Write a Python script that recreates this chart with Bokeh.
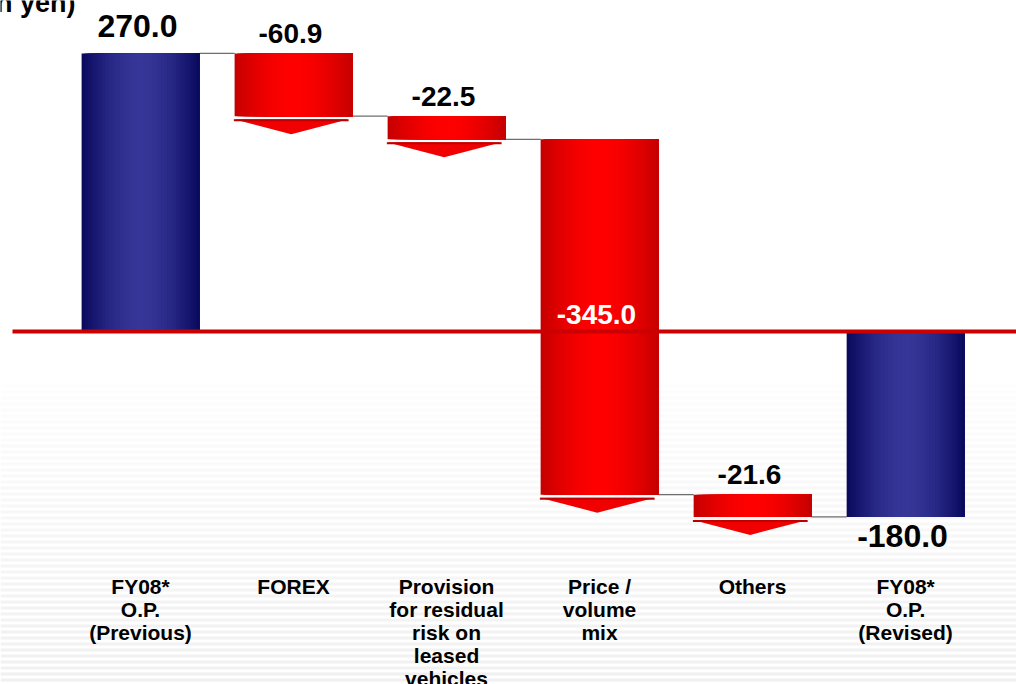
import numpy as np
from bokeh.plotting import figure
from bokeh.models import Range1d
from bokeh.core.properties import value
from bokeh.embed import file_html
from bokeh.resources import INLINE

# ---------------- data ----------------
categories = [
    "FY08*\nO.P.\n(Previous)",
    "FOREX",
    "Provision\nfor residual\nrisk on\nleased\nvehicles",
    "Price /\nvolume\nmix",
    "Others",
    "FY08*\nO.P.\n(Revised)",
]
values = [270.0, -60.9, -22.5, -345.0, -21.6, -180.0]
is_total = [True, False, False, False, False, True]
value_labels = ["270.0", "-60.9", "-22.5", "-345.0", "-21.6", "-180.0"]
unit_label = "(billion yen)"

# ---------------- geometry ----------------
W, H = 1016, 684
Y0, Y1 = -342.7, 321.4
X0, X1 = -0.915, 5.725
PX = H / (Y1 - Y0)          # pixels per value unit
PXX = W / (X1 - X0)         # pixels per category step
HW = 0.385                  # half bar width
FONT = value("Liberation Sans")

p = figure(width=W, height=H, output_backend="svg", toolbar_location=None,
           x_range=Range1d(X0, X1), y_range=Range1d(Y0, Y1),
           x_axis_location=None, y_axis_location=None,
           min_border=0, min_border_left=0, min_border_right=0,
           min_border_top=0, min_border_bottom=0)
p.grid.visible = False
p.outline_line_color = None
p.background_fill_color = "white"
p.border_fill_color = "white"

# faint background stripes (decoration)
st_top, st_bot, st_col = [], [], []
for k in range(50):
    top_px = 384 + k * 6
    frac = k / 49
    g = int(round(253 - 13 * frac))
    st_top.append(Y1 - top_px / PX)
    st_bot.append(Y1 - (top_px + 3) / PX)
    st_col.append("#%02x%02x%02x" % (g, g, g))
p.quad(left=X0, right=X1, top=st_top, bottom=st_bot, fill_color=st_col, line_color=None)

# ---------------- waterfall computation ----------------
starts, ends = [], []
running = 0.0
for v, t in zip(values, is_total):
    if t:
        s, e = 0.0, v
    else:
        s, e = running, running + v
    running = e
    starts.append(s)
    ends.append(e)
xs = list(range(len(values)))

# connectors
for i in range(len(values) - 1):
    lvl = ends[i]
    p.segment(x0=xs[i] + HW, x1=xs[i + 1] - HW, y0=lvl, y1=lvl,
              line_color="#6e6e6e", line_width=1.3)

# gradient bars: each strip runs to the bar's right edge, drawn left to right
def grad(t, edge, center):
    f = 1 - abs(2 * t - 1) ** 1.7
    c = [int(round(edge[j] + (center[j] - edge[j]) * f)) for j in range(3)]
    return "#%02x%02x%02x" % tuple(c)

N = 40
L, R, T, B, C = [], [], [], [], []
for i, x in enumerate(xs):
    lo, hi = min(starts[i], ends[i]), max(starts[i], ends[i])
    if is_total[i]:
        edge, center = (8, 8, 92), (54, 54, 152)
    else:
        edge, center = (196, 0, 0), (255, 0, 0)
    for k in range(N):
        L.append(x - HW + 2 * HW * k / N)
        R.append(x + HW)
        T.append(hi)
        B.append(lo)
        C.append(grad((k + 0.5) / N, edge, center))
p.quad(left=L, right=R, top=T, bottom=B, fill_color=C, line_color=None)

# arrows under the change bars
ax, ay = [], []
tx0, tx1, ty = [], [], []
for i, x in enumerate(xs):
    if is_total[i]:
        continue
    lo = min(starts[i], ends[i])
    top = lo - 3 / PX
    apex = lo - 18 / PX
    ax.append([x - 0.39, x + 0.36, x - 0.015])
    ay.append([top, top, apex])
    tx0.append(x - 0.39); tx1.append(x + 0.36); ty.append(top - 1 / PX)
p.patches(xs=ax, ys=ay, fill_color="#f00000", line_color=None)
p.segment(x0=tx0, x1=tx1, y0=ty, y1=ty, line_color="#c00000", line_width=2)

# zero line
p.segment(x0=X0 + 12 / PXX, x1=X1, y0=0, y1=0, line_color="#cc0000", line_width=4)

# value labels
for i, x in enumerate(xs):
    lo, hi = min(starts[i], ends[i]), max(starts[i], ends[i])
    color = "black"
    if is_total[i]:
        size = "32px"
        y = hi + 27 / PX if values[i] >= 0 else lo - 19 / PX
    elif lo < 0 < hi:
        size = "28px"
        y = 17 / PX
        color = "white"
    else:
        size = "28px"
        y = starts[i] + 20 / PX
    p.text(x=[x - 0.02], y=[y], text=[value_labels[i]], text_font=FONT,
           text_font_style="bold", text_font_size=size, text_color=color,
           text_align="center", text_baseline="alphabetic")

# category labels
p.text(x=xs, y=[Y1 - 574 / PX] * len(xs), text=categories, text_font=FONT,
       text_font_style="bold", text_font_size="21px", text_color="black",
       text_align="center", text_baseline="top", text_line_height=1.0)

# unit label (partly cut off at the left edge)
p.text(x=[X0 + 75 / PXX], y=[Y1 - 2 / PX], text=[unit_label], text_font=FONT,
       text_font_style="bold", text_font_size="27px", text_color="black",
       text_align="right", text_baseline="alphabetic")

open("out.html", "w").write(file_html(p, INLINE))
